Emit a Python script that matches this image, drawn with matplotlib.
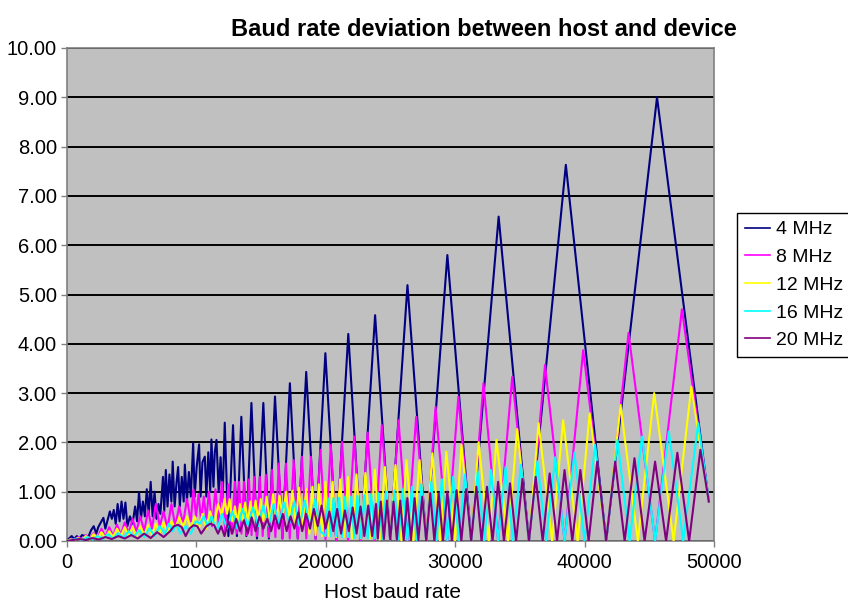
import matplotlib
matplotlib.use("Agg")
import matplotlib.pyplot as plt

plt.rcParams['font.family'] = ['Liberation Sans', 'DejaVu Sans']

title = "Baud rate deviation between host and device"
xlabel = "Host baud rate"
series_labels = ["4 MHz", "8 MHz", "12 MHz", "16 MHz", "20 MHz"]
series_colors = ["#000080", "#FF00FF", "#FFFF00", "#00FFFF", "#800080"]
y_ticks = [0, 1, 2, 3, 4, 5, 6, 7, 8, 9, 10]
x_ticks = [0, 10000, 20000, 30000, 40000, 50000]

# (host baud rate, deviation %) vertices
mhz4 = [(0, 0.0), (200, 0.05), (400, 0.10), (600, 0.04), (800, 0.10), (1000, 0.05), (1200, 0.12),
        (1430, 0.10), (1650, 0.06), (1900, 0.22), (2100, 0.30), (2300, 0.15), (2450, 0.28),
        (2700, 0.40), (2850, 0.47), (3000, 0.25), (3150, 0.40), (3350, 0.60), (3500, 0.45),
        (3650, 0.63), (3800, 0.35), (3950, 0.75), (4100, 0.40), (4250, 0.80), (4400, 0.45),
        (4550, 0.78), (4700, 0.30), (4900, 0.50), (5100, 0.35), (5300, 0.70), (5450, 0.40),
        (5600, 0.99), (5750, 0.45), (5900, 0.80), (6050, 0.50), (6200, 1.05), (6350, 0.55),
        (6500, 1.20), (6650, 0.50), (6800, 1.00), (6950, 0.45), (7100, 0.75), (7250, 0.55),
        (7450, 1.30), (7550, 0.60), (7670, 1.44), (7800, 0.70), (7950, 1.35), (8100, 0.80),
        (8200, 1.61), (8350, 0.70), (8500, 1.20), (8620, 1.50), (8750, 0.70), (8900, 1.30),
        (9050, 0.80), (9140, 1.55), (9300, 0.80), (9450, 1.40), (9600, 0.90), (9780, 1.99),
        (9900, 0.90), (10050, 1.50), (10240, 1.96), (10350, 0.90), (10500, 1.60), (10680, 1.71),
        (10800, 0.90), (10950, 1.80), (11100, 1.00), (11190, 2.06), (11350, 1.10), (11450, 1.80),
        (11580, 2.05), (11750, 1.00), (11900, 1.70), (12050, 0.80), (12220, 2.40), (12500, 0.10),
        (12860, 2.35), (13160, 0.10), (13500, 2.52), (13890, 0.10), (14280, 2.80), (14710, 0.05),
        (15200, 2.80), (15630, 0.05), (16100, 2.93), (16670, 0.05), (17250, 3.20), (17860, 0.05),
        (18510, 3.43), (19230, 0.05), (19990, 3.81), (20830, 0.0), (21760, 4.20), (22730, 0.0),
        (23830, 4.58), (25000, 0.0), (26330, 5.19), (27780, 0.0), (29410, 5.80), (31250, 0.0),
        (33370, 6.58), (35710, 0.0), (38560, 7.63), (41670, 0.0), (45600, 9.00), (49600, 0.80)]

mhz8 = [(0, 0.0), (300, 0.04), (600, 0.02), (900, 0.08), (1200, 0.03), (1500, 0.12), (1800, 0.05),
        (2100, 0.16), (2400, 0.06), (2700, 0.25), (3000, 0.08), (3300, 0.28), (3600, 0.10),
        (3900, 0.33), (4200, 0.12), (4500, 0.38), (4800, 0.15), (5100, 0.45), (5400, 0.20),
        (5700, 0.50), (6000, 0.20), (6300, 0.62), (6600, 0.25), (6900, 0.75), (7200, 0.30),
        (7500, 0.60), (7800, 0.25), (8100, 0.75), (8400, 0.30), (8700, 0.70), (9000, 0.35),
        (9300, 0.85), (9600, 0.40), (9800, 1.05), (10000, 0.50), (10200, 0.95), (10400, 0.40),
        (10600, 0.90), (10800, 0.45), (11000, 1.00), (11250, 0.30), (11500, 1.05), (11750, 0.35),
        (12000, 1.20), (12250, 0.20), (12500, 1.15), (12750, 0.15), (13000, 1.20), (13160, 0.15),
        (13330, 1.20), (13510, 0.15), (13700, 1.20), (13890, 0.12), (14090, 1.25), (14290, 0.12),
        (14490, 1.30), (14710, 0.10), (14930, 1.30), (15150, 0.10), (15390, 1.34), (15630, 0.08),
        (15870, 1.44), (16130, 0.08), (16390, 1.57), (16670, 0.05), (16950, 1.57), (17240, 0.05),
        (17540, 1.64), (17860, 0.05), (18180, 1.71), (18520, 0.05), (18870, 1.71), (19230, 0.03),
        (19610, 1.85), (20000, 0.03), (20410, 1.95), (20830, 0.0), (21280, 2.01), (21740, 0.0),
        (22220, 2.12), (22730, 0.0), (23250, 2.20), (23810, 0.0), (24350, 2.35), (25000, 0.0),
        (25640, 2.45), (26320, 0.0), (27000, 2.52), (27780, 0.0), (28500, 2.72), (29410, 0.0),
        (30260, 2.93), (31250, 0.0), (32200, 3.20), (33330, 0.0), (34420, 3.33), (35710, 0.0),
        (36950, 3.57), (38460, 0.0), (39900, 3.87), (41670, 0.0), (43400, 4.22), (45450, 0.0),
        (47520, 4.70), (49600, 0.80)]

mhz12 = [(0, 0.0), (300, 0.03), (600, 0.01), (900, 0.06), (1200, 0.02), (1500, 0.10), (1800, 0.03),
         (2100, 0.14), (2400, 0.05), (2700, 0.18), (3000, 0.06), (3300, 0.20), (3600, 0.08),
         (3900, 0.25), (4200, 0.10), (4500, 0.28), (4800, 0.10), (5100, 0.28), (5400, 0.10),
         (5700, 0.30), (6000, 0.12), (6300, 0.32), (6600, 0.12), (6900, 0.35), (7200, 0.15),
         (7500, 0.38), (7800, 0.15), (8100, 0.40), (8400, 0.25), (8700, 0.48), (9000, 0.30),
         (9300, 0.50), (9600, 0.25), (9900, 0.50), (10200, 0.22), (10500, 0.55), (10800, 0.25),
         (11100, 0.60), (11400, 0.30), (11700, 0.75), (12000, 0.50), (12200, 0.85), (12400, 0.55),
         (12600, 0.85), (12800, 0.40), (13000, 0.70), (13200, 0.35), (13400, 0.75), (13600, 0.40),
         (13800, 0.78), (14000, 0.35), (14200, 0.80), (14400, 0.40), (14600, 0.82), (14800, 0.40),
         (15000, 0.85), (15200, 0.40), (15450, 0.90), (15700, 0.40), (15950, 0.95), (16200, 0.40),
         (16450, 0.92), (16700, 0.45), (16950, 1.00), (17200, 0.40), (17450, 1.02), (17700, 0.35),
         (17950, 1.08), (18200, 0.30), (18520, 1.05), (18750, 0.15), (18990, 1.10), (19230, 0.12),
         (19480, 1.15), (19740, 0.10), (20000, 1.20), (20270, 0.10), (20550, 1.20), (20830, 0.08),
         (21130, 1.25), (21430, 0.08), (21740, 1.30), (22060, 0.05), (22390, 1.35), (22730, 0.05),
         (23080, 1.38), (23440, 0.05), (23810, 1.45), (24190, 0.03), (24590, 1.50), (25000, 0.03),
         (25400, 1.54), (25860, 0.0), (26250, 1.64), (26790, 0.0), (27260, 1.64), (27780, 0.0),
         (28250, 1.78), (28850, 0.0), (29330, 1.81), (30000, 0.0), (30500, 1.95), (31250, 0.0),
         (31820, 2.00), (32610, 0.0), (33200, 2.05), (34090, 0.0), (34800, 2.27), (35710, 0.0),
         (36450, 2.39), (37500, 0.0), (38350, 2.45), (39470, 0.0), (40400, 2.59), (41670, 0.0),
         (42780, 2.76), (44120, 0.0), (45380, 3.00), (46880, 0.0), (48250, 3.13), (49600, 0.80)]

mhz16 = [(0, 0.0), (400, 0.02), (800, 0.05), (1200, 0.02), (1600, 0.08), (2000, 0.03), (2400, 0.10),
         (2800, 0.04), (3200, 0.14), (3600, 0.05), (4000, 0.16), (4400, 0.06), (4800, 0.20),
         (5200, 0.08), (5600, 0.22), (6000, 0.08), (6400, 0.26), (6800, 0.10), (7200, 0.30),
         (7600, 0.15), (7900, 0.35), (8200, 0.20), (8500, 0.32), (8800, 0.15), (9200, 0.30),
         (9600, 0.15), (10000, 0.40), (10300, 0.35), (10600, 0.50), (10900, 0.30), (11200, 0.50),
         (11600, 0.20), (12000, 0.55), (12400, 0.25), (12800, 0.60), (13200, 0.25), (13600, 0.65),
         (14000, 0.30), (14400, 0.68), (14800, 0.30), (15200, 0.72), (15600, 0.30), (16000, 0.75),
         (16400, 0.35), (16800, 0.78), (17200, 0.35), (17600, 0.80), (18000, 0.30), (18400, 0.82),
         (18800, 0.25), (19200, 0.85), (19600, 0.20), (20000, 0.10), (20200, 0.86), (20410, 0.10),
         (20620, 0.87), (20830, 0.10), (21050, 0.88), (21280, 0.08), (21510, 0.90), (21740, 0.08),
         (21980, 0.90), (22220, 0.06), (22470, 0.92), (22730, 0.06), (22990, 0.93), (23260, 0.05),
         (23530, 0.95), (23810, 0.05), (24100, 0.97), (24390, 0.04), (24690, 1.00), (25000, 0.03),
         (25320, 1.02), (25640, 0.03), (25970, 1.05), (26320, 0.02), (26670, 1.10), (27030, 0.02),
         (27400, 1.15), (27780, 0.0), (28170, 1.20), (28570, 0.0), (28990, 1.25), (29410, 0.0),
         (29850, 1.30), (30300, 0.0), (30770, 1.35), (31250, 0.0), (31750, 1.40), (32260, 0.0),
         (32790, 1.44), (33330, 0.0), (33900, 1.50), (34480, 0.0), (35090, 1.55), (35710, 0.0),
         (36360, 1.62), (37040, 0.0), (37740, 1.70), (38460, 0.0), (39220, 1.79), (40000, 0.0),
         (40820, 1.95), (41670, 0.0), (42550, 2.05), (43480, 0.0), (44440, 2.12), (45450, 0.0),
         (46510, 2.22), (47620, 0.0), (48780, 2.39), (49600, 0.80)]

mhz20 = [(0, 0.0), (500, 0.02), (1000, 0.04), (1500, 0.02), (2000, 0.06), (2500, 0.03), (3000, 0.08),
         (3500, 0.04), (4000, 0.10), (4500, 0.05), (5000, 0.12), (5500, 0.05), (6000, 0.15),
         (6500, 0.06), (7000, 0.18), (7500, 0.08), (8000, 0.20), (8300, 0.30), (8600, 0.33),
         (8900, 0.28), (9200, 0.10), (9500, 0.25), (9800, 0.32), (10100, 0.30), (10400, 0.15),
         (10800, 0.30), (11100, 0.35), (11400, 0.32), (11700, 0.15), (11950, 0.30), (12200, 0.10),
         (12500, 0.40), (12800, 0.15), (13100, 0.45), (13400, 0.20), (13700, 0.42), (14000, 0.15),
         (14300, 0.48), (14600, 0.20), (14900, 0.50), (15200, 0.25), (15500, 0.45), (15800, 0.20),
         (16100, 0.52), (16400, 0.25), (16700, 0.55), (17000, 0.20), (17300, 0.50), (17600, 0.25),
         (17900, 0.58), (18200, 0.20), (18500, 0.55), (18800, 0.25), (19100, 0.65), (19400, 0.30),
         (19700, 0.72), (20000, 0.25), (20300, 0.60), (20600, 0.20), (20900, 0.65), (21200, 0.15),
         (21500, 0.62), (21800, 0.20), (22100, 0.68), (22400, 0.15), (22700, 0.70), (23000, 0.10),
         (23300, 0.72), (23600, 0.10), (23900, 0.75), (24040, 0.05), (24270, 0.80), (24510, 0.04),
         (24750, 0.82), (25000, 0.03), (25250, 0.80), (25510, 0.03), (25770, 0.82), (26040, 0.02),
         (26320, 0.87), (26600, 0.02), (26880, 0.87), (27170, 0.02), (27470, 0.90), (27780, 0.0),
         (28090, 0.97), (28410, 0.0), (28740, 0.97), (29070, 0.0), (29410, 1.00), (29760, 0.0),
         (30120, 1.03), (30490, 0.0), (30860, 1.05), (31250, 0.0), (31650, 1.10), (32050, 0.0),
         (32470, 1.10), (32900, 0.0), (33330, 1.20), (33780, 0.0), (34250, 1.17), (34720, 0.0),
         (35210, 1.26), (35710, 0.0), (36230, 1.30), (36770, 0.0), (37310, 1.37), (37880, 0.0),
         (38460, 1.44), (39060, 0.0), (39680, 1.44), (40320, 0.0), (40980, 1.61), (41670, 0.0),
         (42370, 1.61), (43100, 0.0), (43860, 1.68), (44640, 0.0), (45450, 1.61), (46300, 0.0),
         (47170, 1.79), (48080, 0.0), (48950, 1.85), (49600, 0.80)]

all_series = [mhz4, mhz8, mhz12, mhz16, mhz20]

fig = plt.figure(figsize=(8.48, 6.01), dpi=100)
ax = fig.add_axes([66.5 / 848, 1 - 541 / 601, (714 - 66.5) / 848, (541 - 48) / 601])
ax.set_facecolor("#C0C0C0")

for data, lab, col in zip(all_series, series_labels, series_colors):
    xs = [p[0] for p in data]
    ys = [p[1] for p in data]
    ax.plot(xs, ys, color=col, lw=1.5, label=lab, zorder=3)

ax.set_xlim(0, 50000)
ax.set_ylim(0, 10)
ax.set_yticks(y_ticks)
ax.set_yticklabels([f"{v:.2f}" for v in y_ticks])
ax.set_xticks(x_ticks)
ax.set_xticklabels([str(v) for v in x_ticks])
ax.yaxis.grid(True, color="black", lw=1.4, zorder=1)
ax.set_axisbelow(True)
ax.tick_params(axis="y", labelsize=14.5, length=4, width=1, color="#808080", pad=3)
ax.tick_params(axis="x", labelsize=14.5, length=4, width=1, color="#808080", pad=5)
for s in ax.spines.values():
    s.set_color("#808080")
    s.set_linewidth(1.2)

fig.text(484 / 848, 1 - 30 / 601, title, ha="center", va="center", fontsize=17, fontweight="bold")
fig.text(392 / 848, 1 - 592 / 601, xlabel, ha="center", va="center", fontsize=15)

leg = ax.legend(loc="upper left", bbox_to_anchor=(737 / 848, 1 - 213 / 601),
                bbox_transform=fig.transFigure, fontsize=14, frameon=True, fancybox=False,
                borderaxespad=0, borderpad=0.4, handlelength=1.3, handletextpad=0.3,
                labelspacing=0.52)
leg.get_frame().set_edgecolor("black")
leg.get_frame().set_linewidth(1.0)
leg.get_frame().set_facecolor("white")
leg.get_frame().set_alpha(1)
for line in leg.get_lines():
    line.set_linewidth(1.2)

fig.savefig("out.png", dpi=100)
